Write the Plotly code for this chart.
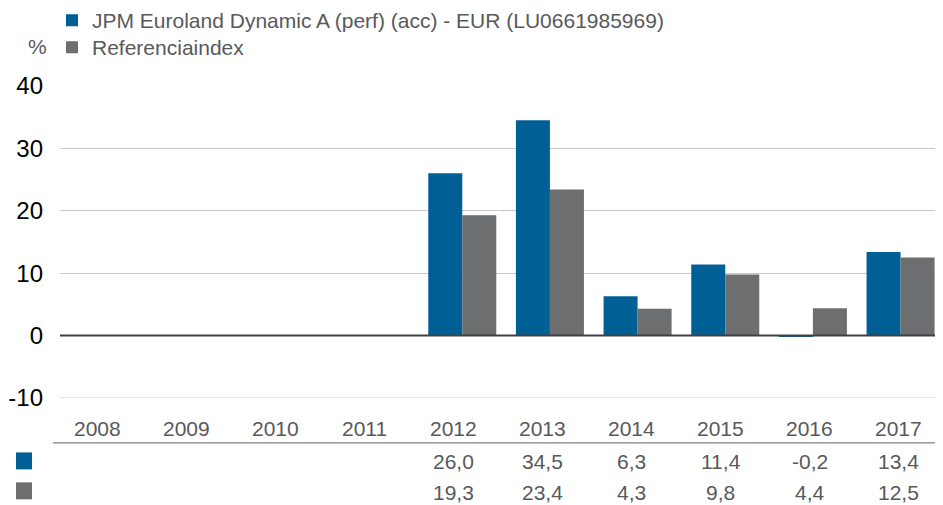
import plotly.graph_objects as go

years = ["2008", "2009", "2010", "2011", "2012", "2013", "2014", "2015", "2016", "2017"]
fund_name = "JPM Euroland Dynamic A (perf) (acc) - EUR (LU0661985969)"
index_name = "Referenciaindex"
fund_values = [None, None, None, None, 26.0, 34.5, 6.3, 11.4, -0.2, 13.4]
index_values = [None, None, None, None, 19.3, 23.4, 4.3, 9.8, 4.4, 12.5]
y_ticks = [-10, 0, 10, 20, 30, 40]
y_tick_text = ["-10", "0", "10", "20", "30", "40"]

BLUE = "#006096"
GREY = "#6d6e70"
TXT = "#58595b"
FONT = "Liberation Sans, Arial, sans-serif"

# the page body has an 8px margin: figure sits at (8, 8) in the 943x505 window
OFF = 8
W, H = 943 - OFF, 505 - OFF
# plot area in window pixels: x 60..943, y 86..398.5
L = 60 - OFF
R = 0
T = 86 - OFF
B = H - (398.5 - OFF)
PW = W - L - R
PH = H - T - B

def px_x(vx):
    return (vx - OFF - L) / PW

def px_y(vy):
    return (H - B - (vy - OFF)) / PH

# table columns (year labels and values) span window x 53..943
TABLE_LEFT, TABLE_RIGHT = 53, 943
COL_W = (TABLE_RIGHT - TABLE_LEFT) / len(years)

def col_x(i):
    return px_x(TABLE_LEFT + COL_W * (i + 0.5))

fig = go.Figure()
fig.add_trace(go.Bar(x=years, y=fund_values, name=fund_name, marker_color=BLUE,
                     marker_line_width=0, legend="legend"))
fig.add_trace(go.Bar(x=years, y=index_values, name=index_name, marker_color=GREY,
                     marker_line_width=0, legend="legend2"))

annotations = []
# year labels
for i, yr in enumerate(years):
    annotations.append(dict(x=col_x(i), xref="paper", y=px_y(429.5), yref="paper", text=yr,
                            showarrow=False, font=dict(size=21, color=TXT, family=FONT),
                            xanchor="center", yanchor="middle"))
# table values
def fmt(v):
    return "" if v is None else f"{v:.1f}".replace(".", ",")
for i, (fv, iv) in enumerate(zip(fund_values, index_values)):
    for v, py in ((fv, 462), (iv, 493)):
        if v is not None:
            annotations.append(dict(x=col_x(i), xref="paper", y=px_y(py), yref="paper",
                                    text=fmt(v), showarrow=False,
                                    font=dict(size=21, color=TXT, family=FONT),
                                    xanchor="center", yanchor="middle"))
# % label
annotations.append(dict(x=px_x(37), xref="paper", y=px_y(46), yref="paper", text="%",
                        showarrow=False, font=dict(size=21, color=TXT, family=FONT),
                        xanchor="center", yanchor="middle"))

shapes = []
# table squares
for py, col in ((461.5, BLUE), (491.5, GREY)):
    shapes.append(dict(type="rect", xref="paper", yref="paper",
                       x0=px_x(16), x1=px_x(32), y0=px_y(py - 8.5), y1=px_y(py + 8.5),
                       fillcolor=col, line_width=0))
# separator line under years
shapes.append(dict(type="line", xref="paper", yref="paper", x0=px_x(TABLE_LEFT), x1=1,
                   y0=px_y(443.5), y1=px_y(443.5), line=dict(color="#808080", width=1.2)))
# bottom gridline (-10)
shapes.append(dict(type="line", xref="paper", yref="y", x0=0, x1=1, y0=-10, y1=-10,
                   line=dict(color="#c8c8c8", width=1)))
# zero line
shapes.append(dict(type="line", xref="paper", yref="y", x0=0, x1=1, y0=0, y1=0,
                   line=dict(color="#404040", width=2), layer="above"))

legend_common = dict(xanchor="left", yanchor="top", orientation="v",
                     font=dict(size=21, color=TXT, family=FONT),
                     bgcolor="rgba(0,0,0,0)", itemwidth=30)

fig.update_layout(
    width=W, height=H,
    margin=dict(l=L, r=R, t=T, b=B, pad=0, autoexpand=False),
    paper_bgcolor="white", plot_bgcolor="white",
    barmode="group", bargap=0.224, bargroupgap=0,
    font=dict(family=FONT, color=TXT),
    showlegend=True,
    legend=dict(x=px_x(52), y=px_y(0), **legend_common),
    legend2=dict(x=px_x(52), y=px_y(27), **legend_common),
    xaxis=dict(type="category", categoryorder="array", categoryarray=years,
               showticklabels=False, showgrid=False, zeroline=False, showline=False,
               range=[-0.589, 9.484]),
    yaxis=dict(range=[-10, 40], tickvals=y_ticks, ticktext=y_tick_text,
               showgrid=True, gridcolor="#c8c8c8",
               gridwidth=1, zeroline=False, showline=False,
               tickfont=dict(size=24, color="#000000", family=FONT),
               ticks="", ticklabelstandoff=16),
    annotations=annotations,
    shapes=shapes,
)

fig.write_html("out.html")
